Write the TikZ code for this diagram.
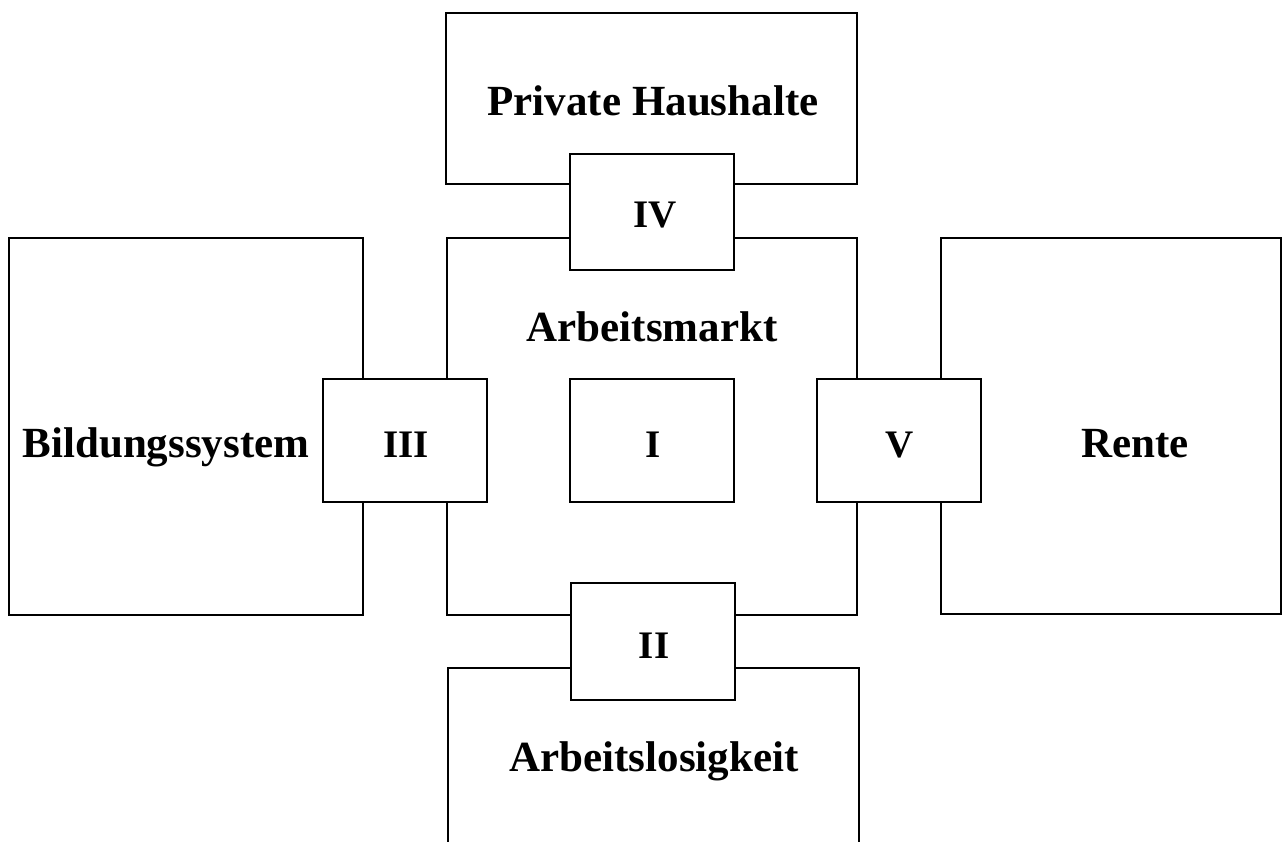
\documentclass[tikz,border=0pt]{standalone}
\usepackage{fontspec}
\setmainfont{Liberation Serif}
\begin{document}
\begin{tikzpicture}[x=1pt,y=-1pt,
  box/.style={draw=black, line width=2.2pt, fill=white, inner sep=0pt, outer sep=0pt, anchor=north west},
  lab/.style={inner sep=0pt, anchor=base, font=\fontsize{43}{50}\selectfont\bfseries},
  num/.style={inner sep=0pt, anchor=base, font=\fontsize{39}{46}\selectfont\bfseries}]
\useasboundingbox (0,0) rectangle (1282,841);
\clip (0,0) rectangle (1282,841);
% large boxes
\node[box, minimum width=411pt, minimum height=171pt] (ph) at (446,13) {};
\node[box, minimum width=410pt, minimum height=377pt] (am) at (447,238) {};
\node[box, minimum width=354pt, minimum height=377pt] (bs) at (9,238) {};
\node[box, minimum width=340pt, minimum height=376pt] (re) at (941,238) {};
\node[box, minimum width=411pt, minimum height=240pt] (al) at (448,668) {};
% small boxes
\node[box, minimum width=164pt, minimum height=116pt] (iv) at (570,154) {};
\node[box, minimum width=164pt, minimum height=123pt] (iii) at (323,379) {};
\node[box, minimum width=164pt, minimum height=123pt] (i) at (570,379) {};
\node[box, minimum width=164pt, minimum height=123pt] (v) at (817,379) {};
\node[box, minimum width=164pt, minimum height=117pt] (ii) at (571,583) {};
% numerals
\node[num] (ivl) at (655,227) {IV};
\node[num] (iiil) at (406,457) {III};
\node[num] (il) at (653,457) {I};
\node[num] (vl) at (900,457) {V};
\node[num] (iil) at (654,658) {II};
% labels
\node[lab] (phl) at (653,115) {Private Haushalte};
\node[lab] (aml) at (652,341) {Arbeitsmarkt};
\node[lab] (bsl) at (166,457) {Bildungssystem};
\node[lab] (rel) at (1135,457) {Rente};
\node[lab] (all) at (654,771) {Arbeitslosigkeit};
\end{tikzpicture}
\end{document}
